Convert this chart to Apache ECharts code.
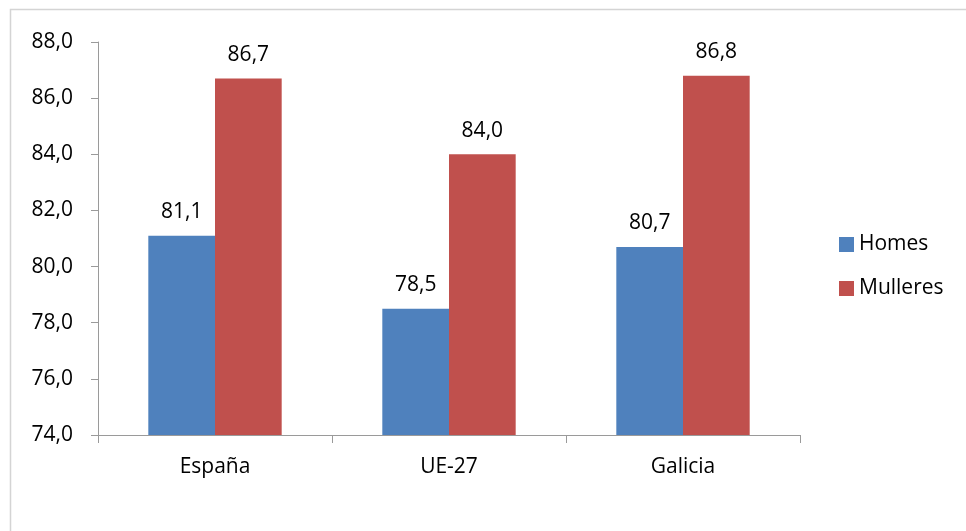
<!DOCTYPE html>
<html>
<head>
<meta charset="utf-8">
<script src="https://cdn.jsdelivr.net/npm/echarts@6/dist/echarts.min.js"></script>
<style>
html,body{margin:0;padding:0;background:#fff;}
#c{width:966px;height:531px;}
</style>
</head>
<body>
<div id="c"></div>
<script>
const categories = ['España', 'UE-27', 'Galicia'];
const homes = [81.1, 78.5, 80.7];
const mulleres = [86.7, 84.0, 86.8];
const yTicks = { min: 74, max: 88, interval: 2 };

const FONT = '"Open Sans", "Liberation Sans", sans-serif';
const FS = 21;
const fmt = v => Number(v).toFixed(1).replace('.', ',');

const chart = echarts.init(document.getElementById('c'));
chart.setOption({
  animation: false,
  backgroundColor: '#ffffff',
  graphic: [{
    type: 'rect',
    shape: { x: 10.5, y: 9.5, width: 1000, height: 600 },
    style: { fill: 'none', stroke: '#d4d4d4', lineWidth: 1.5 },
    silent: true
  }],
  grid: { left: 98, right: 166, top: 42, bottom: 96, containLabel: false },
  legend: {
    orient: 'vertical',
    left: 834,
    top: 229,
    itemWidth: 15,
    itemHeight: 15,
    itemGap: 23,
    icon: 'rect',
    textStyle: { fontFamily: FONT, fontSize: FS, color: '#000' },
    data: ['Homes', 'Mulleres']
  },
  xAxis: {
    type: 'category',
    data: categories,
    axisLine: { lineStyle: { color: '#9a9a9a', width: 1 } },
    axisTick: { show: true, alignWithLabel: false, length: 8, lineStyle: { color: '#9a9a9a' } },
    axisLabel: { fontFamily: FONT, fontSize: FS, color: '#000', margin: 22 }
  },
  yAxis: {
    type: 'value',
    min: yTicks.min,
    max: yTicks.max,
    interval: yTicks.interval,
    axisLine: { show: true, lineStyle: { color: '#9a9a9a', width: 1 } },
    axisTick: { show: true, length: 7, lineStyle: { color: '#9a9a9a' } },
    splitLine: { show: false },
    axisLabel: { fontFamily: FONT, fontSize: FS, color: '#000', margin: 25, formatter: v => fmt(v) }
  },
  series: [
    {
      name: 'Homes',
      type: 'bar',
      data: homes,
      barGap: '0%',
      barCategoryGap: '43%',
      itemStyle: { color: '#4F81BD' },
      label: { show: true, position: 'top', distance: 13, fontFamily: FONT, fontSize: FS, color: '#000', formatter: p => fmt(p.value) }
    },
    {
      name: 'Mulleres',
      type: 'bar',
      data: mulleres,
      itemStyle: { color: '#C0504D' },
      label: { show: true, position: 'top', distance: 13, fontFamily: FONT, fontSize: FS, color: '#000', formatter: p => fmt(p.value) }
    }
  ]
});
</script>
</body>
</html>
